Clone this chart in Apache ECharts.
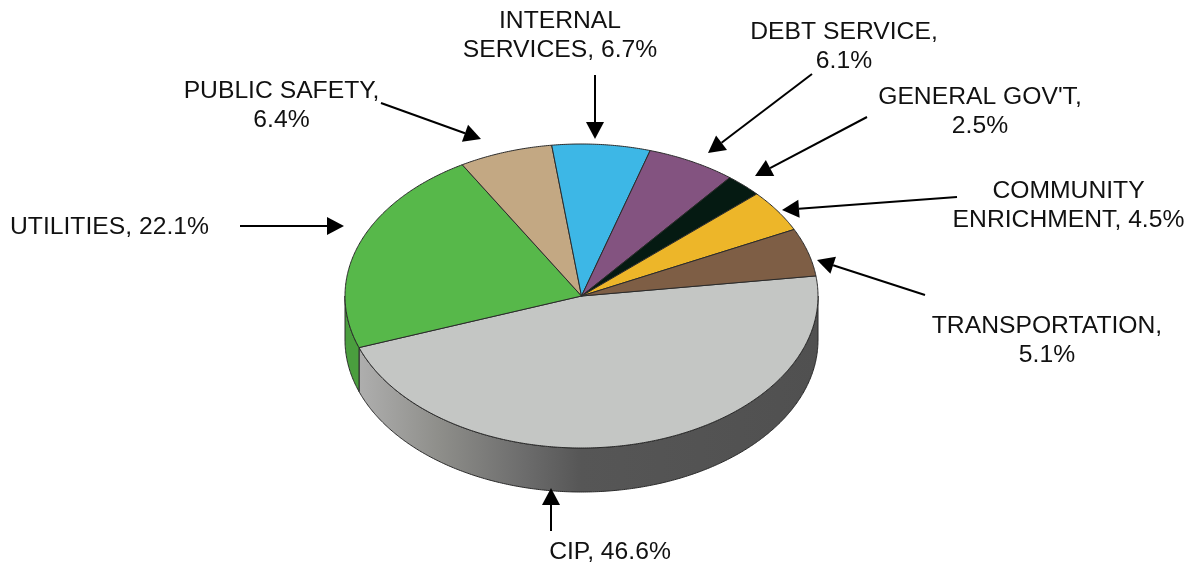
<!DOCTYPE html>
<html>
<head>
<meta charset="utf-8">
<style>html,body{margin:0;padding:0;background:#fff}#chart{width:1199px;height:567px}</style>
<script src="https://cdn.jsdelivr.net/npm/echarts@6/dist/echarts.min.js"></script>
</head>
<body>
<div id="chart"></div>
<script>
// Budget shares, clockwise from the CIP slice
const categories = ['CIP', 'UTILITIES', 'PUBLIC SAFETY', 'INTERNAL\nSERVICES', 'DEBT SERVICE', "GENERAL GOV'T", 'COMMUNITY\nENRICHMENT', 'TRANSPORTATION'];
const shares = [46.6, 22.1, 6.4, 6.7, 6.1, 2.5, 4.5, 5.1];
const valueSeparators = [' ', ' ', '\n', ' ', '\n', '\n', ' ', '\n'];
const topColors = ['#C4C6C4', '#57B84A', '#C3A883', '#3DB7E6', '#835380', '#051A12', '#EDB629', '#7E5E45'];

// Disc geometry
const disc = { cx: 581.5, cy: 296, rx: 236.5, ry: 152, depth: 44, startDeg: -7.6 };

// Callout layout: label anchor and arrow (tail, tip), one per category
const callouts = [
  { x: 610, y: 552, align: 'center', tail: [551, 531], tip: [551, 488] },
  { x: 10, y: 227, align: 'left', tail: [240, 226], tip: [344, 226] },
  { x: 281.5, y: 105.5, align: 'center', tail: [381, 103], tip: [481, 139] },
  { x: 560, y: 36, align: 'center', tail: [595, 75], tip: [595, 139] },
  { x: 844, y: 46.5, align: 'center', tail: [812, 74], tip: [708, 153] },
  { x: 980, y: 111.5, align: 'center', tail: [867, 117], tip: [755, 176] },
  { x: 1068.5, y: 206, align: 'center', tail: [957, 197], tip: [782, 210] },
  { x: 1047, y: 340.5, align: 'center', tail: [925, 295], tip: [817, 260] }
];

const total = shares.reduce((a, b) => a + b, 0);
const rim = (deg, dy) => {
  const t = deg * Math.PI / 180;
  return [disc.cx + disc.rx * Math.cos(t), disc.cy + disc.ry * Math.sin(t) + (dy || 0)];
};
const arc = (from, to, dy) => {
  const pts = [];
  const n = Math.max(2, Math.ceil(Math.abs(to - from) * 2));
  for (let i = 0; i <= n; i++) pts.push(rim(from + (to - from) * i / n, dy));
  return pts;
};

// Wall shading runs across the whole disc, so the gradient uses global coordinates
const wallGradient = new echarts.graphic.LinearGradient(
  disc.cx - disc.rx, 0, disc.cx + disc.rx, 0,
  [
    { offset: 0, color: '#B4B4B4' },
    { offset: 0.2, color: '#8E8E8A' },
    { offset: 0.38, color: '#6C6C6C' },
    { offset: 0.5, color: '#565656' },
    { offset: 1, color: '#505050' }
  ],
  true
);

function renderSlice(params, api) {
  const i = params.dataIndex;
  const before = shares.slice(0, i).reduce((a, b) => a + b, 0);
  const a0 = disc.startDeg + before / total * 360;
  const a1 = a0 + api.value(0) / total * 360;
  const children = [];
  // Only the front half of the disc shows a wall
  const w0 = Math.max(a0, 0), w1 = Math.min(a1, 180);
  if (w1 > w0) {
    children.push({
      type: 'polygon',
      shape: { points: arc(w0, w1, 0).concat(arc(w1, w0, disc.depth)) },
      style: { fill: i === 0 ? wallGradient : '#4A9E3E', stroke: '#2a2a2a', lineWidth: 1, lineJoin: 'round' }
    });
  }
  children.push({
    type: 'polygon',
    shape: { points: [[disc.cx, disc.cy]].concat(arc(a0, a1, 0)) },
    style: { fill: topColors[i], stroke: '#2b2b2b', lineWidth: 1, lineJoin: 'round' }
  });
  return { type: 'group', children };
}

function renderCallout(params, api) {
  const c = callouts[params.dataIndex];
  const i = params.dataIndex;
  const dx = c.tip[0] - c.tail[0], dy = c.tip[1] - c.tail[1];
  const len = Math.hypot(dx, dy), ux = dx / len, uy = dy / len;
  const headLen = 17, headHalf = 9;
  const bx = c.tip[0] - ux * headLen, by = c.tip[1] - uy * headLen;
  return {
    type: 'group',
    children: [
      { type: 'line', shape: { x1: c.tail[0], y1: c.tail[1], x2: bx, y2: by }, style: { stroke: '#000', lineWidth: 2 } },
      {
        type: 'polygon',
        shape: { points: [c.tip, [bx - uy * headHalf, by + ux * headHalf], [bx + uy * headHalf, by - ux * headHalf]] },
        style: { fill: '#000' }
      },
      {
        type: 'text', x: c.x, y: c.y,
        style: {
          text: categories[i] + ',' + valueSeparators[i] + api.value(0).toFixed(1) + '%',
          font: '24.7px "Liberation Sans", Arial, sans-serif',
          fill: '#111', align: c.align, verticalAlign: 'middle', lineHeight: 29
        }
      }
    ]
  };
}

const chart = echarts.init(document.getElementById('chart'), null, { renderer: 'canvas' });
chart.setOption({
  animation: false,
  backgroundColor: '#fff',
  tooltip: { show: false },
  series: [
    { type: 'custom', coordinateSystem: 'none', silent: true, data: shares, renderItem: renderSlice, z: 2 },
    { type: 'custom', coordinateSystem: 'none', silent: true, data: shares, renderItem: renderCallout, z: 3 }
  ]
});
</script>
</body>
</html>
